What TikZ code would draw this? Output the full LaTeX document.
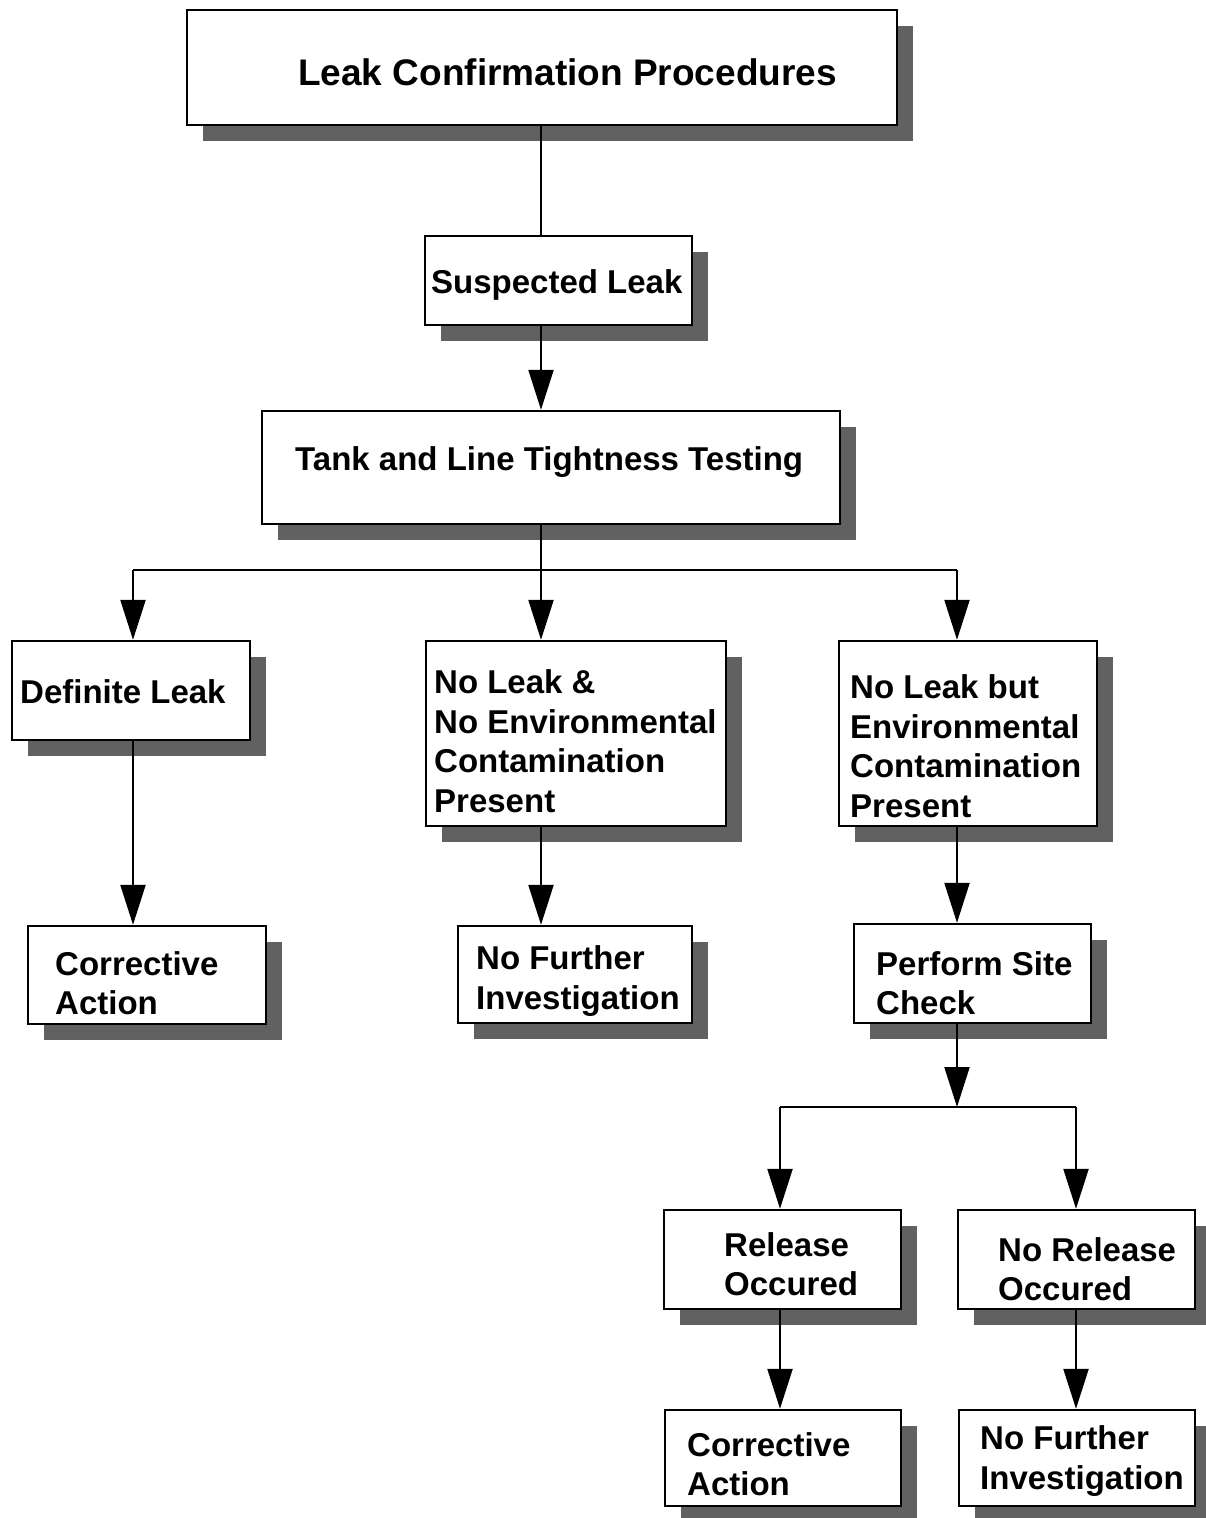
\documentclass[tikz,border=0pt]{standalone}
\usepackage{fontspec}
\setmainfont{Liberation Sans}
\usetikzlibrary{arrows.meta,shadows}
\begin{document}
\begin{tikzpicture}[x=1pt,y=-1pt,
  box/.style={draw=black, line width=2.4pt, fill=white, inner sep=0pt,
    drop shadow={shadow xshift=16pt, shadow yshift=-16pt, fill=black!62, opacity=1}},
  txt/.style={anchor=west, align=left, inner sep=0pt, font=\bfseries\fontsize{33}{39.5}\selectfont},
  conn/.style={line width=2.2pt},
  arr/.style={line width=2.2pt, -{Triangle[length=40pt,width=25pt]}}]
\useasboundingbox (0,0) rectangle (1206,1518);
% boxes
\node[box, minimum width=710pt, minimum height=115pt] (title) at (542,67.5) {};
\node[box, minimum width=267pt, minimum height=89pt] (susp) at (558.5,280.5) {};
\node[box, minimum width=578pt, minimum height=113pt] (tank) at (551,467.5) {};
\node[box, minimum width=238pt, minimum height=99pt] (dl) at (131,690.5) {};
\node[box, minimum width=300pt, minimum height=185pt] (nl) at (576,733.5) {};
\node[box, minimum width=258pt, minimum height=185pt] (nlb) at (968,733.5) {};
\node[box, minimum width=238pt, minimum height=98pt] (ca1) at (147,975) {};
\node[box, minimum width=234pt, minimum height=97pt] (nf1) at (575,974.5) {};
\node[box, minimum width=237pt, minimum height=99pt] (psc) at (972.5,973.5) {};
\node[box, minimum width=237pt, minimum height=99pt] (ro) at (782.5,1259.5) {};
\node[box, minimum width=237pt, minimum height=99pt] (nro) at (1076.5,1259.5) {};
\node[box, minimum width=236pt, minimum height=96pt] (ca2) at (783,1458) {};
\node[box, minimum width=236pt, minimum height=96pt] (nf2) at (1077,1458) {};
% texts
\node[txt, font=\bfseries\fontsize{37}{42}\selectfont] (ttitle) at (298,72) {Leak Confirmation Procedures};
\node[txt] (tsusp) at (431,285) {Suspected Leak};
\node[txt] (ttank) at (295,462) {Tank and Line Tightness Testing};
\node[txt] (tdl) at (20,692) {Definite Leak};
\node[txt] (tnl) at (434,741) {No Leak \&\\No Environmental\\Contamination\\Present};
\node[txt] (tnlb) at (850,746) {No Leak but\\Environmental\\Contamination\\Present};
\node[txt] (tca1) at (55,983) {Corrective\\Action};
\node[txt] (tnf1) at (476,981) {No Further\\Investigation};
\node[txt] (tpsc) at (876,983) {Perform Site\\Check};
\node[txt] (tro) at (724,1264) {Release\\Occured};
\node[txt] (tnro) at (998,1269) {No Release\\Occured};
\node[txt] (tca2) at (687,1464) {Corrective\\Action};
\node[txt] (tnf2) at (980,1461) {No Further\\Investigation};
% branch points
\coordinate (b1) at (133,570);
\coordinate (b2) at (541,570);
\coordinate (b3) at (957,570);
\coordinate (c0) at (957,1107);
\coordinate (c1) at (780,1107);
\coordinate (c2) at (1076,1107);
% connectors
\draw[conn] (title.south -| b2) -- (susp.north -| b2);
\draw[arr] (susp.south -| b2) -- (tank.north -| b2);
\draw[conn] (tank.south -| b2) -- (b2);
\draw[conn] (b1) -- (b3);
\draw[arr] (b1) -- (dl.north -| b1);
\draw[arr] (b2) -- (nl.north -| b2);
\draw[arr] (b3) -- (nlb.north -| b3);
\draw[arr] (dl.south -| b1) -- (ca1.north -| b1);
\draw[arr] (nl.south -| b2) -- (nf1.north -| b2);
\draw[arr] (nlb.south -| b3) -- (psc.north -| b3);
\draw[arr] (psc.south -| c0) -- (c0);
\draw[conn] (c1) -- (c2);
\draw[arr] (c1) -- (ro.north -| c1);
\draw[arr] (c2) -- (nro.north -| c2);
\draw[arr] (ro.south -| c1) -- (ca2.north -| c1);
\draw[arr] (nro.south -| c2) -- (nf2.north -| c2);
\end{tikzpicture}
\end{document}
